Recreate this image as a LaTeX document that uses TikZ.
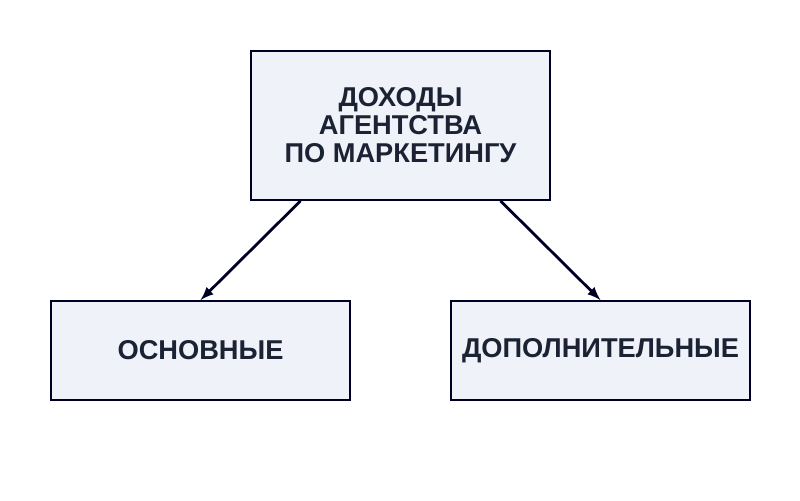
\documentclass[tikz,border=0pt]{standalone}
\usepackage{fontspec}
\setmainfont{Liberation Sans}
\begin{document}
\begin{tikzpicture}[x=0.02cm,y=-0.02cm,
  box/.style={draw=black!85!blue,line width=1pt,fill={rgb,255:red,239;green,242;blue,248},text={rgb,255:red,26;green,34;blue,51},font=\bfseries\fontsize{15.5}{16}\selectfont,align=center,inner sep=0pt},
  arr/.style={-latex,line width=1.6pt,draw=black!85!blue}]
\useasboundingbox (0,0) rectangle (800,500);
\node[box,minimum width=299*0.02cm,minimum height=149*0.02cm] (top) at (400.5,125.5) {ДОХОДЫ\\АГЕНТСТВА\\ПО МАРКЕТИНГУ};
\node[box,minimum width=299*0.02cm,minimum height=99*0.02cm] (l) at (200.5,350.5) {ОСНОВНЫЕ};
\node[box,minimum width=299*0.02cm,minimum height=99*0.02cm] (r) at (600.5,350.5) {ДОПОЛНИТЕЛЬНЫЕ};
\draw[arr] ([xshift=-2cm]top.south) -- (l.north);
\draw[arr] ([xshift=2cm]top.south) -- (r.north);
\end{tikzpicture}
\end{document}
